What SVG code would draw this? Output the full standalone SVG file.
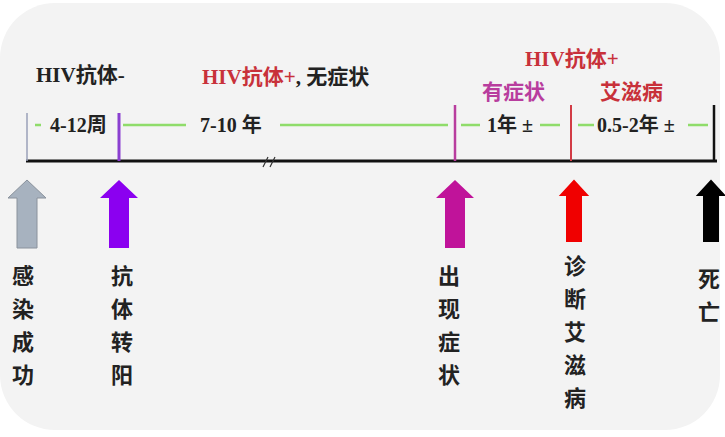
<svg xmlns="http://www.w3.org/2000/svg" width="725" height="437" viewBox="0 0 725 437">
<defs>
<style>
.t{font-family:"Liberation Serif","Noto Sans CJK SC",serif;font-weight:bold;font-size:21px}
.s{font-size:20px}
.v{font-family:"Noto Sans CJK SC",sans-serif;font-weight:bold;font-size:22px;fill:#222;text-anchor:middle}
.g{stroke:#8fdc6a;stroke-width:2.5;fill:none}
</style>
<path id="arr" d="M-10,0 L-10,-50 L-19,-50 L0,-68 L19,-50 L10,-50 L10,0 Z"/>
</defs>
<rect x="0" y="3" width="720" height="427" rx="55" ry="55" fill="#f3f3f3"/>
<g id="connectors">
<line x1="26" y1="161" x2="717" y2="161" stroke="#111" stroke-width="3"/>
<line x1="27" y1="113" x2="27" y2="161" stroke="#9aa0b8" stroke-width="1.5"/>
<line x1="119" y1="113" x2="119" y2="161" stroke="#8a3fd0" stroke-width="3"/>
<line x1="455" y1="105" x2="455" y2="161" stroke="#b83d9e" stroke-width="2.5"/>
<line x1="571" y1="105" x2="571" y2="161" stroke="#d23b45" stroke-width="2"/>
<line x1="714" y1="105" x2="714" y2="161" stroke="#111" stroke-width="2.5"/>
<path class="g" d="M35,125 H41 M123,125 H186 M280,125 H448 M461,125 H480 M540,125 H560 M578,125 H594 M688,125 H708"/>
<path d="M263,167 L268,157 M270,167 L275,157" stroke="#333" stroke-width="1.2"/>
</g>
<g id="labels">
<text class="t" x="36" y="82" fill="#222">HIV抗体-</text>
<text class="t" x="202" y="84"><tspan fill="#c8313a">HIV抗体+</tspan><tspan fill="#222">, 无症状</tspan></text>
<text class="t" x="525" y="66" fill="#c8313a">HIV抗体+</text>
<text class="t" x="482" y="99" fill="#b83d9e">有症状</text>
<text class="t" x="600" y="99" fill="#c8313a">艾滋病</text>
<text class="t s" x="50" y="132" fill="#222">4-12周</text>
<text class="t s" x="200" y="132" fill="#222">7-10 年</text>
<text class="t s" x="487" y="132" fill="#222">1年 ±</text>
<text class="t s" x="597" y="132" fill="#222">0.5-2年 ±</text>
</g>
<g id="infection">
<use href="#arr" transform="translate(27,248)" fill="#a7b2bf" stroke="#8a929c" stroke-width="1"/>
<text class="v"><tspan x="23" y="284">感</tspan><tspan x="23" y="317">染</tspan><tspan x="23" y="350">成</tspan><tspan x="23" y="383">功</tspan></text>
</g>
<g id="seroconversion">
<use href="#arr" transform="translate(119,248)" fill="#8b00f0"/>
<text class="v"><tspan x="122" y="284">抗</tspan><tspan x="122" y="317">体</tspan><tspan x="122" y="350">转</tspan><tspan x="122" y="383">阳</tspan></text>
</g>
<g id="symptoms">
<use href="#arr" transform="translate(455,248)" fill="#c0139a"/>
<text class="v"><tspan x="449" y="284">出</tspan><tspan x="449" y="317">现</tspan><tspan x="449" y="350">症</tspan><tspan x="449" y="383">状</tspan></text>
</g>
<g id="diagnosis">
<use href="#arr" transform="translate(574,242) scale(0.8,0.92)" fill="#f00000"/>
<text class="v"><tspan x="575" y="274">诊</tspan><tspan x="575" y="307">断</tspan><tspan x="575" y="340">艾</tspan><tspan x="575" y="373">滋</tspan><tspan x="575" y="406">病</tspan></text>
</g>
<g id="death">
<use href="#arr" transform="translate(711,242) scale(0.8,0.92)" fill="#000"/>
<text class="v"><tspan x="709" y="287">死</tspan><tspan x="709" y="320">亡</tspan></text>
</g>
</svg>
